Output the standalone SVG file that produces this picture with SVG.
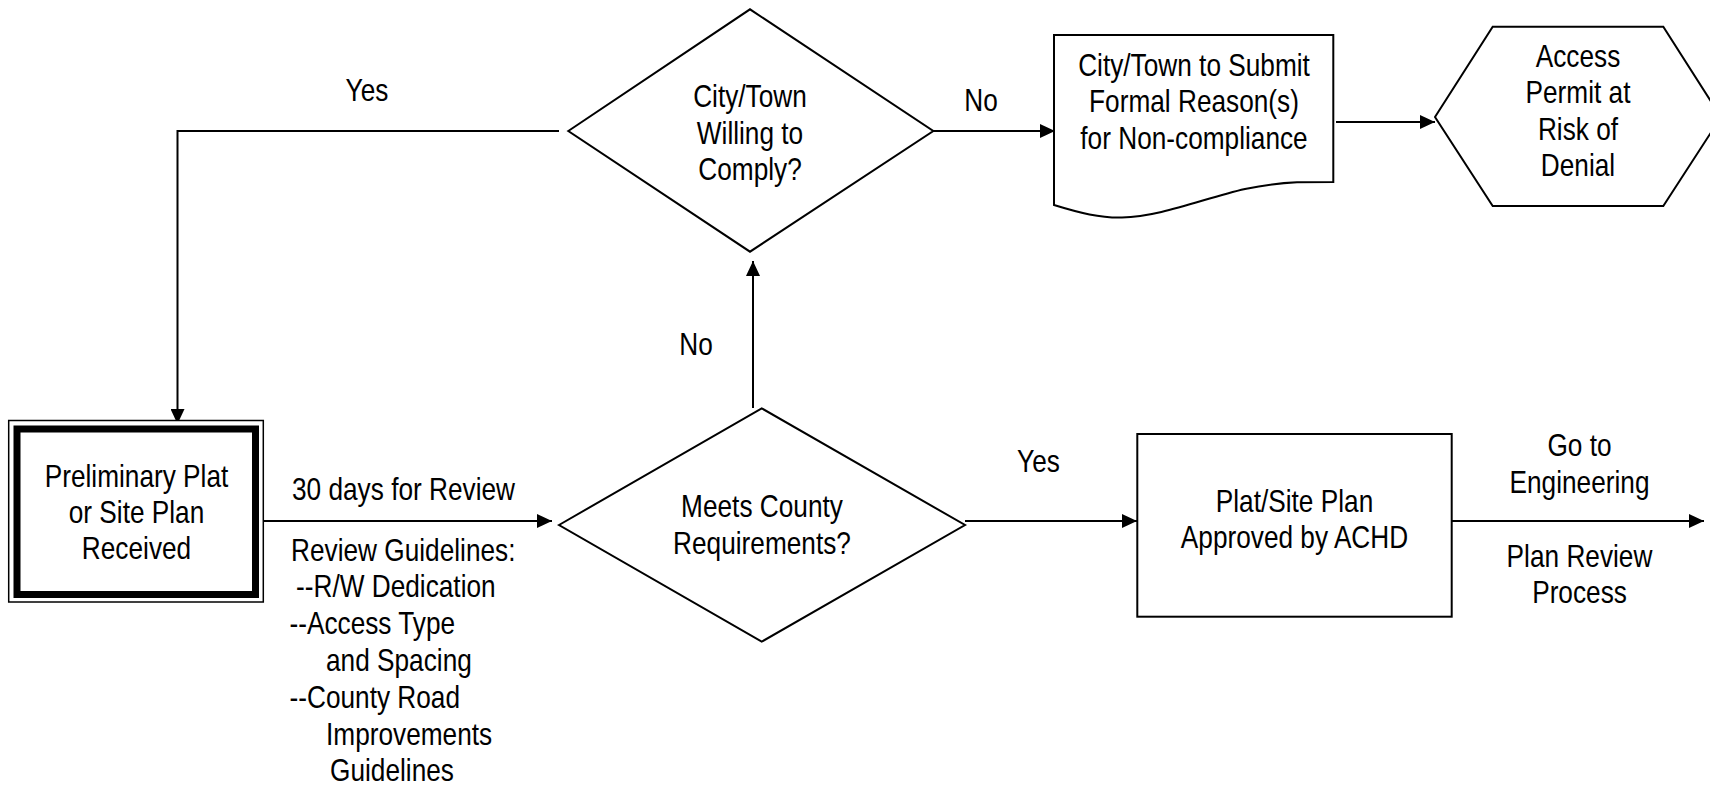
<svg xmlns="http://www.w3.org/2000/svg" width="1710" height="788" viewBox="0 0 1710 788">
  <style>
    text { font-family: "Liberation Sans", Arial, sans-serif; font-size: 30.5px; fill: #000; }
    .c { text-anchor: middle; }
    .shape { fill: #fff; stroke: #000; stroke-width: 2; }
    .conn { fill: none; stroke: #000; stroke-width: 2; }
  </style>
  <defs>
    <marker id="arrow" markerUnits="userSpaceOnUse" markerWidth="15" markerHeight="14" refX="15" refY="7" orient="auto">
      <path d="M0,0 L15,7 L0,14 z" fill="#000"/>
    </marker>
  </defs>

  <rect width="1710" height="788" fill="#fff"/>

  <!-- connectors; labels use a narrowed sans face (x scaled by 0.86) -->
  <g id="connectors">
    <path class="conn" d="M559,131 L177.5,131 L177.5,424" marker-end="url(#arrow)"/>
    <path class="conn" d="M933,131 L1055,131" marker-end="url(#arrow)"/>
    <path class="conn" d="M1336,122 L1435,122" marker-end="url(#arrow)"/>
    <path class="conn" d="M250,521 L552,521" marker-end="url(#arrow)"/>
    <path class="conn" d="M753,408 L753,261" marker-end="url(#arrow)"/>
    <path class="conn" d="M965,521 L1137,521" marker-end="url(#arrow)"/>
    <path class="conn" d="M1452,521 L1704,521" marker-end="url(#arrow)"/>

    <text class="c" transform="translate(367 101) scale(0.86 1)">Yes</text>
    <text class="c" transform="translate(981 111) scale(0.86 1)">No</text>
    <text class="c" transform="translate(696 355) scale(0.86 1)">No</text>
    <text class="c" transform="translate(1038.5 472) scale(0.86 1)">Yes</text>

    <text transform="translate(292 500) scale(0.86 1)">30 days for Review</text>
    <text transform="translate(291 560.7) scale(0.86 1)">Review Guidelines:</text>
    <text transform="translate(296 597.3) scale(0.86 1)">--R/W Dedication</text>
    <text transform="translate(289.5 634) scale(0.86 1)">--Access Type</text>
    <text transform="translate(326 670.7) scale(0.86 1)">and Spacing</text>
    <text transform="translate(289.5 708.3) scale(0.86 1)">--County Road</text>
    <text transform="translate(326 745) scale(0.86 1)">Improvements</text>
    <text transform="translate(330 780.7) scale(0.86 1)">Guidelines</text>

    <text class="c" transform="translate(1579.5 456) scale(0.86 1)">Go to</text>
    <text class="c" transform="translate(1579.5 492.7) scale(0.86 1)">Engineering</text>
    <text class="c" transform="translate(1579.5 566.7) scale(0.86 1)">Plan Review</text>
    <text class="c" transform="translate(1579.5 602.7) scale(0.86 1)">Process</text>
  </g>

  <!-- start: plat or site plan received -->
  <g id="received">
    <rect x="8.7" y="420.5" width="254.6" height="181.5" fill="#fff" stroke="#000" stroke-width="1.5"/>
    <rect x="17" y="429" width="238.5" height="165.5" fill="none" stroke="#000" stroke-width="7"/>
    <text class="c" transform="translate(136.5 487) scale(0.86 1)">Preliminary Plat</text>
    <text class="c" transform="translate(136.5 523) scale(0.86 1)">or Site Plan</text>
    <text class="c" transform="translate(136.5 559) scale(0.86 1)">Received</text>
  </g>

  <!-- decision: meets county requirements -->
  <g id="meets-requirements">
    <polygon class="shape" points="559,525 761.7,408.3 965,525 761.7,641.7"/>
    <text class="c" transform="translate(762 517) scale(0.86 1)">Meets County</text>
    <text class="c" transform="translate(762 553.5) scale(0.86 1)">Requirements?</text>
  </g>

  <!-- decision: willing to comply -->
  <g id="willing-to-comply">
    <polygon class="shape" points="568.3,131 750,9.3 933.3,131 750,251.7"/>
    <text class="c" transform="translate(750 107) scale(0.86 1)">City/Town</text>
    <text class="c" transform="translate(750 143.5) scale(0.86 1)">Willing to</text>
    <text class="c" transform="translate(750 180) scale(0.86 1)">Comply?</text>
  </g>

  <!-- document: formal reasons -->
  <g id="formal-reasons">
    <path class="shape" d="M1054,35 L1333.3,35 L1333.3,182 L1297,182.3 C1280,183 1265,185 1245,189 C1205,198 1160,217 1122,217.5 C1100,218 1080,213 1054,205 Z"/>
    <text class="c" transform="translate(1194 76) scale(0.86 1)">City/Town to Submit</text>
    <text class="c" transform="translate(1194 112) scale(0.86 1)">Formal Reason(s)</text>
    <text class="c" transform="translate(1194 148.5) scale(0.86 1)">for Non-compliance</text>
  </g>

  <!-- outcome: permit at risk -->
  <g id="permit-at-risk">
    <polygon class="shape" points="1435,117 1492.7,26.7 1663.3,26.7 1721,117 1663.3,206 1492.7,206"/>
    <text class="c" transform="translate(1578 66.7) scale(0.86 1)">Access</text>
    <text class="c" transform="translate(1578 103.3) scale(0.86 1)">Permit at</text>
    <text class="c" transform="translate(1578 140) scale(0.86 1)">Risk of</text>
    <text class="c" transform="translate(1578 176) scale(0.86 1)">Denial</text>
  </g>

  <!-- process: approved -->
  <g id="approved">
    <rect class="shape" x="1137.3" y="434" width="314.4" height="182.7"/>
    <text class="c" transform="translate(1294.5 511.7) scale(0.86 1)">Plat/Site Plan</text>
    <text class="c" transform="translate(1294.5 548.3) scale(0.86 1)">Approved by ACHD</text>
  </g>
</svg>
